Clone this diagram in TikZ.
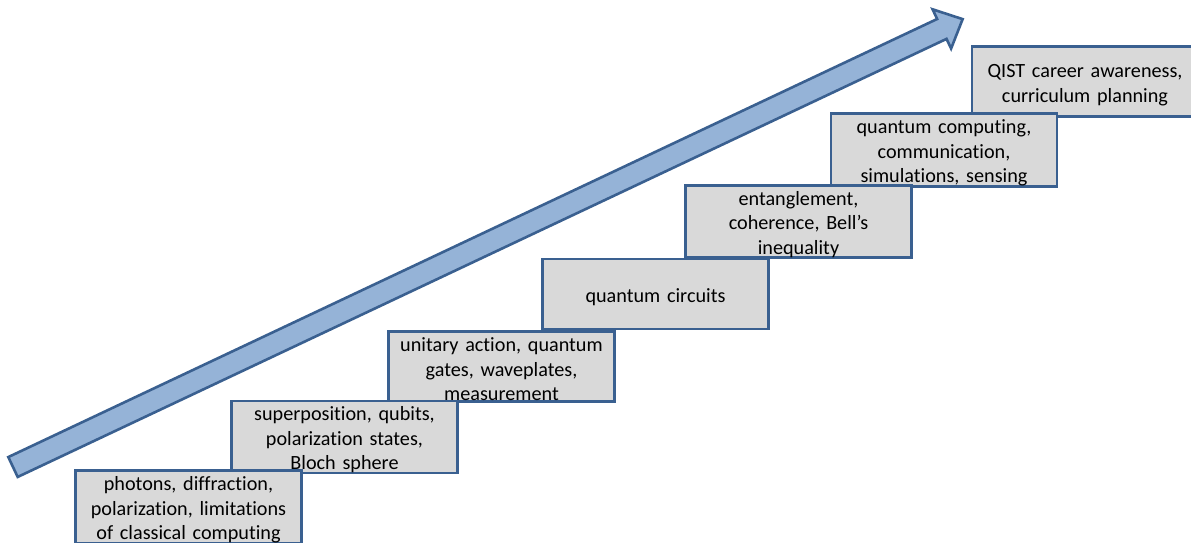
\documentclass[tikz,border=0pt]{standalone}
\usepackage{fontspec}
\setmainfont{Carlito}[Ligatures={NoCommon}]
\definecolor{arrowfill}{HTML}{95B3D7}
\definecolor{edgeblue}{HTML}{3A6090}
\definecolor{boxgray}{HTML}{D9D9D9}
\begin{document}
\begin{tikzpicture}[x=1pt,y=-1pt,
  stepbox/.style={draw=edgeblue, line width=2.6pt, fill=boxgray,
    minimum width=226pt, minimum height=70pt, inner sep=0pt,
    text width=222pt, align=center,
    font=\fontsize{20.2pt}{24.5pt}\selectfont,
    execute at begin node={\rule{0pt}{20pt}}}]
\useasboundingbox (0,0) rectangle (1191,542);
\clip (0,0) rectangle (1191,542);
% rising arrow
\begin{scope}[shift={(13,467)}, rotate=25.25]
  \draw[draw=edgeblue, line width=2.6pt, fill=arrowfill, line join=miter]
    (0,-11) -- (1027,-11) -- (1027,-21.7) -- (1050,0) -- (1027,21.7)
    -- (1027,11) -- (0,11) -- cycle;
\end{scope}
% steps
\node[stepbox] (s7) at (1085,81.5) {QIST career awareness,\\curriculum planning};
\node[stepbox] (s6) at (944,150) {quantum computing,\\communication,\\simulations, sensing};
\node[stepbox] (s5) at (798.5,221.5) {entanglement,\\coherence, Bell’s\\inequality};
\node[stepbox] (s4) at (655.5,294) {quantum circuits};
\node[stepbox] (s3) at (501.5,366.5) {unitary action, quantum\\gates, waveplates,\\measurement};
\node[stepbox] (s2) at (344.5,437) {superposition, qubits,\\polarization states,\\Bloch sphere};
\node[stepbox] (s1) at (188.5,507) {photons, diffraction,\\polarization, limitations\\of classical computing};
\end{tikzpicture}
\end{document}
